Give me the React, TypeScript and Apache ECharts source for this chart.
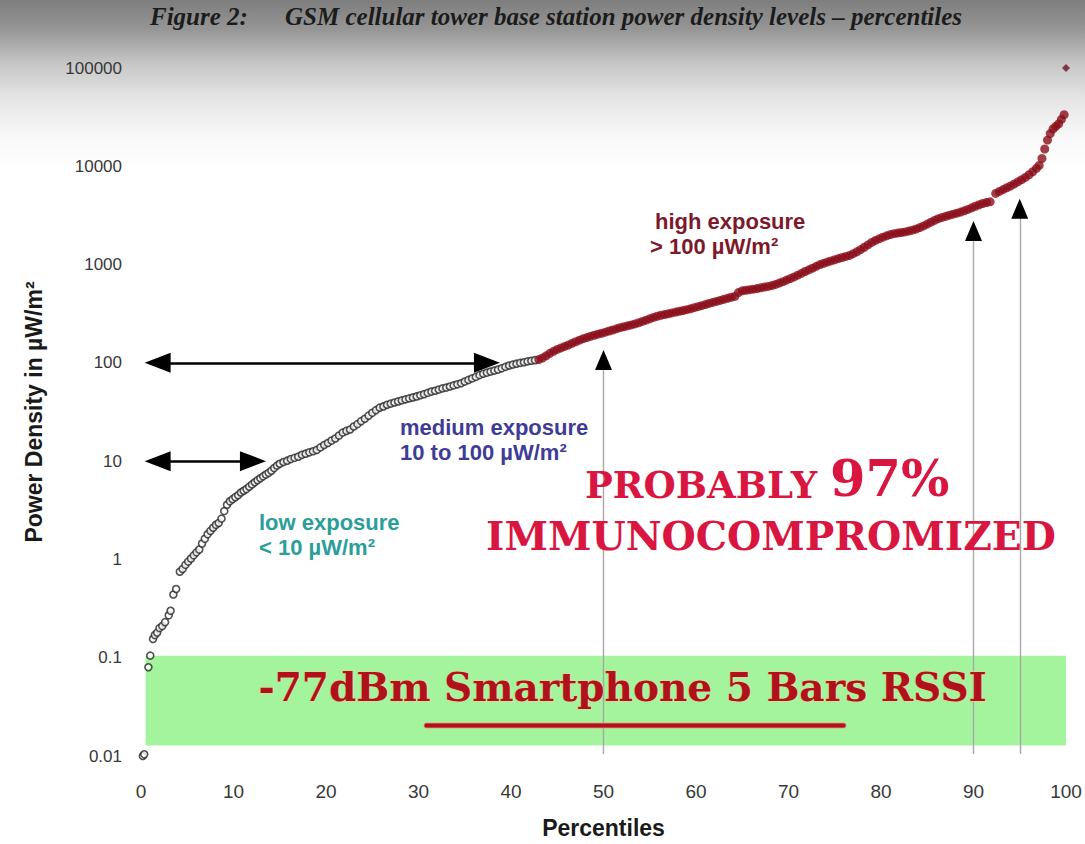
import React, { useEffect, useRef } from "react";
import * as echarts from "echarts";

// ---- data ----
const yTickLabels = ["0.01", "0.1", "1", "10", "100", "1000", "10000", "100000"];

// low / medium exposure (open markers)
const lowPct = [
  0.2, 0.35, 0.8, 1.0, 1.3, 1.5, 1.75, 2.0, 2.3, 2.6, 3.0, 3.2, 3.5, 3.8, 4.2, 4.5, 4.8, 5.1, 5.4, 5.7,
  6.0, 6.3, 6.6, 6.9, 7.2, 7.5, 7.8, 8.1, 8.4, 8.7, 9.0, 9.3, 9.6, 9.9, 10.2, 10.5, 10.8, 11.1, 11.4, 11.7,
  12.0, 12.3, 12.6, 12.9, 13.2, 13.5, 13.8, 14.1, 14.4, 14.7, 15.0, 15.4, 15.8, 16.2, 16.6, 17.0, 17.4, 17.8,
  18.2, 18.6, 19.0, 19.4, 19.8, 20.2, 20.6, 21.0, 21.4, 21.8, 22.2, 22.6, 23.0, 23.4, 23.8, 24.2, 24.6, 25.0,
  25.4, 25.8, 26.2, 26.6, 27.0, 27.4, 27.8, 28.2, 28.6, 29.0, 29.4, 29.8, 30.2, 30.6, 31.0, 31.4, 31.8, 32.2,
  32.6, 33.0, 33.4, 33.8, 34.2, 34.6, 35.0, 35.4, 35.8, 36.2, 36.6, 37.0, 37.4, 37.8, 38.2, 38.6, 39.0, 39.4,
  39.8, 40.2, 40.6, 41.0, 41.4, 41.8, 42.2, 42.6,
];
const lowVal = [
  0.01, 0.0104, 0.08, 0.105, 0.155, 0.17, 0.18, 0.2, 0.21, 0.23, 0.27, 0.3, 0.44, 0.5, 0.75, 0.8, 0.88, 0.95, 1.02, 1.1,
  1.18, 1.26, 1.45, 1.62, 1.8, 1.95, 2.1, 2.25, 2.35, 2.6, 3.1, 3.6, 3.9, 4.1, 4.3, 4.5, 4.8, 5.0, 5.2, 5.5,
  5.8, 6.1, 6.4, 6.7, 7.0, 7.3, 7.6, 8.0, 8.5, 9.0, 9.4, 9.8, 10.1, 10.5, 10.8, 11.1, 11.6, 11.9,
  12.3, 12.6, 13.0, 13.8, 14.6, 15.3, 16.2, 17.0, 18.2, 19.5, 20.3, 21.0, 22.5, 23.8, 25.5, 27.0, 29.0, 31.0,
  33.0, 35.0, 36.0, 37.5, 38.5, 39.5, 40.5, 41.5, 42.5, 43.5, 44.5, 45.5, 46.8, 48.0, 49.5, 51.0, 52.0, 53.5,
  55.0, 56.0, 57.5, 59.0, 60.5, 62.0, 64.5, 67.0, 69.5, 72.0, 75.0, 77.5, 79.5, 81.5, 83.5, 85.5, 88.0, 91.0,
  94.0, 96.0, 98.0, 100.0, 101.5, 103.5, 105.0, 106.5,
];

// high exposure (filled markers)
const highPct = [
  43.0, 43.4, 43.8, 44.2, 44.6, 45.0, 45.4, 45.8, 46.2, 46.6, 47.0, 47.4, 47.8, 48.2, 48.6, 49.0, 49.4, 49.8,
  50.2, 50.6, 51.0, 51.4, 51.8, 52.2, 52.6, 53.0, 53.4, 53.8, 54.2, 54.6, 55.0, 55.4, 55.8, 56.2, 56.6, 57.0,
  57.4, 57.8, 58.2, 58.6, 59.0, 59.4, 59.8, 60.2, 60.6, 61.0, 61.4, 61.8, 62.2, 62.6, 63.0, 63.4, 63.8, 64.2,
  64.6, 65.0, 65.4, 65.8, 66.2, 66.6, 67.0, 67.4, 67.8, 68.2, 68.6, 69.0, 69.4, 69.8, 70.2, 70.6, 71.0, 71.4,
  71.8, 72.2, 72.6, 73.0, 73.4, 73.8, 74.2, 74.6, 75.0, 75.4, 75.8, 76.2, 76.6, 77.0, 77.4, 77.8, 78.2, 78.6,
  79.0, 79.4, 79.8, 80.2, 80.6, 81.0, 81.4, 81.8, 82.2, 82.6, 83.0, 83.4, 83.8, 84.2, 84.6, 85.0, 85.4, 85.8,
  86.2, 86.6, 87.0, 87.4, 87.8, 88.2, 88.6, 89.0, 89.4, 89.8, 90.2, 90.6, 91.0, 91.4, 91.8,
  92.4, 92.8, 93.2, 93.6, 94.0, 94.4, 94.8, 95.2, 95.6, 96.0, 96.4, 96.8, 97.1, 97.4, 97.7, 98.0, 98.3, 98.6,
  98.9, 99.2, 99.5, 99.8,
];
const highVal = [
  108, 112, 118, 125, 131, 137, 142, 147, 152, 158, 164, 170, 176, 181, 186, 191, 196, 200,
  205, 211, 216, 222, 228, 233, 238, 243, 249, 256, 264, 272, 281, 290, 298, 305, 310, 316,
  322, 329, 335, 341, 348, 355, 364, 373, 382, 392, 402, 412, 422, 432, 443, 454, 465, 474,
  520, 540, 548, 555, 562, 570, 580, 590, 600, 612, 628, 648, 670, 695, 720, 748, 780, 815,
  850, 885, 920, 960, 1000, 1030, 1060, 1090, 1120, 1150, 1180, 1210, 1240, 1290, 1350, 1420, 1500, 1590,
  1680, 1760, 1830, 1900, 1960, 2020, 2060, 2090, 2120, 2150, 2190, 2240, 2300, 2380, 2470, 2580, 2700, 2820,
  2930, 3020, 3100, 3180, 3260, 3330, 3420, 3520, 3640, 3780, 3920, 4060, 4180, 4280, 4350,
  5300, 5550, 5800, 6050, 6300, 6600, 6950, 7300, 7700, 8200, 8800, 9500, 10200, 12000, 15000, 18500, 21500, 24000,
  25500, 27000, 30000, 33500,
];

const peakPct = [100];
const peakVal = [100000];

// annotation anchors (data coordinates)
const bandRange = [[0.5, 0.0128], [100, 0.105]];
const levelArrows = [
  { level: 100, from: 1.8, to: 37.4 },
  { level: 10, from: 1.8, to: 12.1 },
];
const upArrows = [
  { pct: 50, head: 107 },
  { pct: 90, head: 2200 },
  { pct: 95, head: 3700 },
];

const zip = (a: number[], b: number[]) => a.map((x, i) => [x, b[i]]);

export default function App() {
  const ref = useRef<HTMLDivElement>(null);

  useEffect(() => {
    if (!ref.current) return;
    const chart = echarts.init(ref.current, undefined, { renderer: "svg" });

    const sans = '"Liberation Sans", Arial, sans-serif';
    const slab = '"DejaVu Serif", serif';

    const markLineData: any[] = [];
    const markPointData: any[] = [];
    levelArrows.forEach((a) => {
      markLineData.push([
        { coord: [a.from, a.level], lineStyle: { color: "#000", width: 2.5, type: "solid" } },
        { coord: [a.to, a.level] },
      ]);
      markPointData.push({ coord: [a.from, a.level], symbol: "triangle", symbolRotate: 90, symbolSize: [20, 26] });
      markPointData.push({ coord: [a.to, a.level], symbol: "triangle", symbolRotate: -90, symbolSize: [20, 26] });
    });
    upArrows.forEach((a) => {
      markLineData.push([
        { coord: [a.pct, 0.0105], lineStyle: { color: "#a8a8a8", width: 1.4, type: "solid" } },
        { coord: [a.pct, a.head] },
      ]);
      markPointData.push({ coord: [a.pct, a.head], symbol: "triangle", symbolSize: [17, 20] });
    });

    chart.setOption({
      animation: false,
      backgroundColor: {
        type: "linear",
        x: 0,
        y: 0,
        x2: 0,
        y2: 1,
        colorStops: [
          { offset: 0, color: "#7e7e7e" },
          { offset: 0.035, color: "#969696" },
          { offset: 0.075, color: "#c6c6c6" },
          { offset: 0.115, color: "#e4e4e4" },
          { offset: 0.16, color: "#f8f8f8" },
          { offset: 0.2, color: "#ffffff" },
          { offset: 1, color: "#ffffff" },
        ],
      },
      grid: { left: 141, right: 19, top: 68, bottom: 83 },
      xAxis: {
        type: "value",
        min: 0,
        max: 100,
        interval: 10,
        axisLine: { show: false },
        axisTick: { show: false },
        splitLine: { show: false },
        axisLabel: { color: "#383838", fontSize: 19, fontFamily: sans, margin: 26 },
        name: "Percentiles",
        nameLocation: "middle",
        nameGap: 60,
        nameTextStyle: { color: "#1a1a1a", fontSize: 23, fontWeight: "bold", fontFamily: sans },
      },
      yAxis: {
        type: "log",
        logBase: 10,
        min: 0.01,
        max: 100000,
        splitNumber: 7,
        axisLine: { show: false },
        axisTick: { show: false },
        splitLine: { show: false },
        axisLabel: {
          color: "#383838",
          fontSize: 17,
          fontFamily: sans,
          margin: 19,
          formatter: (v: number) => yTickLabels[Math.round(Math.log10(v)) + 2] ?? String(v),
        },
        name: "Power Density in µW/m²",
        nameLocation: "middle",
        nameGap: 96,
        nameRotate: 90,
        nameTextStyle: { color: "#1a1a1a", fontSize: 23, fontWeight: "bold", fontFamily: sans },
      },
      series: [
        {
          name: "low-medium",
          type: "scatter",
          z: 3,
          symbol: "circle",
          symbolSize: 7,
          itemStyle: { color: "#ffffff", borderColor: "#262626", borderWidth: 1.6 },
          data: zip(lowPct, lowVal),
        },
        {
          name: "high",
          type: "scatter",
          z: 3,
          symbol: "circle",
          symbolSize: 9,
          itemStyle: { color: "#8a0d19" },
          data: zip(highPct, highVal),
        },
        {
          name: "peak",
          type: "scatter",
          z: 3,
          symbol: "diamond",
          symbolSize: 8,
          itemStyle: { color: "#6e1424" },
          data: zip(peakPct, peakVal),
        },
        {
          name: "arrows",
          type: "scatter",
          z: 4,
          data: [],
          markLine: {
            silent: true,
            symbol: ["none", "none"],
            label: { show: false },
            lineStyle: { type: "solid" },
            data: markLineData,
          },
          markPoint: {
            silent: true,
            label: { show: false },
            itemStyle: { color: "#000" },
            data: markPointData,
          },
        },
        {
          name: "band",
          type: "scatter",
          z: 6,
          data: [],
          markArea: {
            silent: true,
            itemStyle: { color: "rgba(128,240,118,0.72)" },
            data: [[{ coord: bandRange[0] }, { coord: bandRange[1] }]],
          },
        },
      ],
      graphic: [
        {
          type: "text",
          left: 150,
          top: 4,
          style: { text: "Figure 2:", font: 'bold italic 25px "Liberation Serif"', fill: "#1c1c1c" },
        },
        {
          type: "text",
          left: 285,
          top: 4,
          style: {
            text: "GSM cellular tower base station power density levels – percentiles",
            font: 'bold italic 25px "Liberation Serif"',
            fill: "#1c1c1c",
          },
        },
        {
          type: "text",
          left: 655,
          top: 210,
          style: { text: "high exposure", font: `bold 22px ${sans}`, fill: "#7c1a2c" },
        },
        {
          type: "text",
          left: 650,
          top: 235,
          style: { text: "> 100 µW/m²", font: `bold 22px ${sans}`, fill: "#7c1a2c" },
        },
        {
          type: "text",
          left: 400,
          top: 416,
          style: { text: "medium exposure", font: `bold 22px ${sans}`, fill: "#3f3c96" },
        },
        {
          type: "text",
          left: 400,
          top: 441,
          style: { text: "10 to 100 µW/m²", font: `bold 22px ${sans}`, fill: "#3f3c96" },
        },
        {
          type: "text",
          left: 259,
          top: 511,
          style: { text: "low exposure", font: `bold 22px ${sans}`, fill: "#2b9e9a" },
        },
        {
          type: "text",
          left: 259,
          top: 536,
          style: { text: "< 10 µW/m²", font: `bold 22px ${sans}`, fill: "#2b9e9a" },
        },
        {
          type: "text",
          z: 20,
          left: 585,
          top: 466,
          style: { text: "PROBABLY", font: `bold 37px ${slab}`, fill: "#d9163f" },
        },
        {
          type: "text",
          z: 20,
          left: 830,
          top: 452,
          style: { text: "97%", font: `bold 51px ${slab}`, fill: "#d9163f" },
        },
        {
          type: "text",
          z: 20,
          left: 486,
          top: 516,
          style: { text: "IMMUNOCOMPROMIZED", font: `bold 39.3px ${slab}`, fill: "#d9163f" },
        },
        {
          type: "text",
          z: 20,
          left: 258,
          top: 667,
          style: {
            text: "-77dBm Smartphone 5 Bars RSSI",
            font: `bold 39px ${slab}`,
            fill: "#b0121c",
            stroke: "#f2cf98",
            lineWidth: 1,
          },
        },
        {
          type: "rect",
          z: 20,
          shape: { x: 424, y: 723, width: 422, height: 5, r: 2 },
          style: { fill: "#b3121c", stroke: "#e89a80", lineWidth: 0.8 },
        },
      ],
    });

    return () => chart.dispose();
  }, []);

  return (
    <div
      ref={ref}
      style={{ position: "fixed", left: 0, top: 0, width: 1085, height: 844 }}
    />
  );
}
